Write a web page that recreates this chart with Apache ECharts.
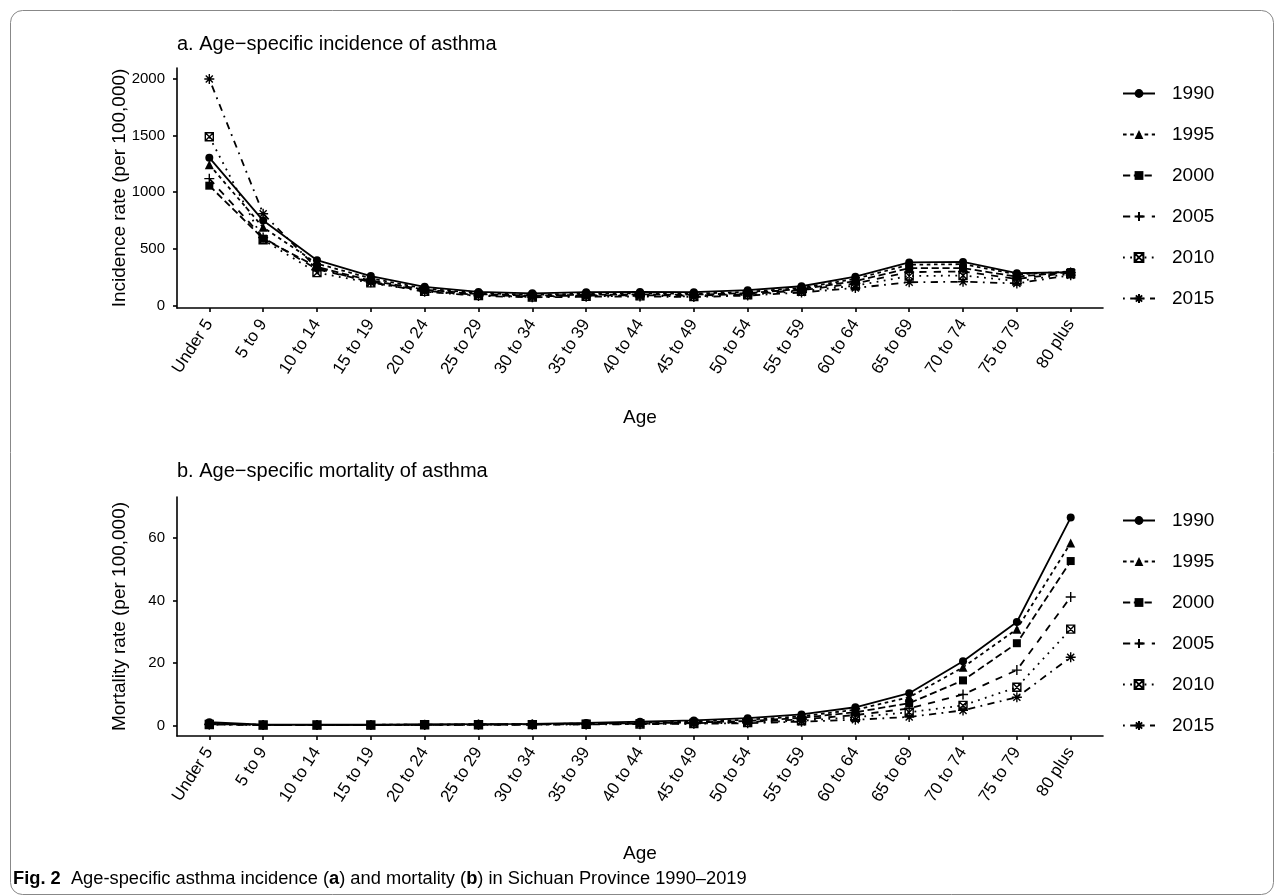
<!DOCTYPE html>
<html>
<head>
<meta charset="utf-8">
<script src="https://cdn.jsdelivr.net/npm/echarts@6/dist/echarts.min.js"></script>
<style>html,body{margin:0;padding:0;background:#fff}#c{width:1284px;height:896px}</style>
</head>
<body>
<div id="c"></div>
<script>
const ages = ['Under 5','5 to 9','10 to 14','15 to 19','20 to 24','25 to 29','30 to 34','35 to 39','40 to 44','45 to 49','50 to 54','55 to 59','60 to 64','65 to 69','70 to 74','75 to 79','80 plus'];
const years = ['1990','1995','2000','2005','2010','2015'];

const inc1990 = [1305, 750, 400, 260, 165, 120, 108, 118, 120, 118, 135, 170, 255, 380, 385, 285, 295];
const inc1995 = [1243, 690, 370, 240, 150, 110, 95, 105, 108, 105, 120, 155, 235, 360, 365, 275, 300];
const inc2000 = [1058, 590, 340, 220, 140, 100, 88, 95, 98, 95, 110, 145, 215, 330, 330, 255, 295];
const inc2005 = [1120, 600, 320, 210, 130, 92, 80, 88, 90, 88, 100, 135, 195, 295, 300, 235, 290];
const inc2010 = [1490, 580, 290, 200, 125, 88, 75, 82, 85, 80, 95, 125, 175, 260, 265, 215, 280];
const inc2015 = [2000, 810, 330, 205, 122, 85, 72, 78, 80, 75, 88, 115, 155, 205, 210, 195, 268];

const mor1990 = [1.0, 0.2, 0.2, 0.2, 0.3, 0.4, 0.5, 0.8, 1.2, 1.6, 2.3, 3.5, 5.8, 10.3, 20.5, 33.1, 66.5];
const mor1995 = [0.6, 0.18, 0.18, 0.18, 0.25, 0.3, 0.4, 0.6, 0.9, 1.2, 1.8, 2.9, 5.0, 9.0, 18.6, 30.8, 58.4];
const mor2000 = [0.5, 0.15, 0.16, 0.16, 0.22, 0.28, 0.35, 0.5, 0.7, 0.9, 1.4, 2.4, 4.2, 7.1, 14.4, 26.3, 52.6];
const mor2005 = [0.4, 0.13, 0.14, 0.14, 0.2, 0.25, 0.3, 0.4, 0.55, 0.7, 1.1, 1.9, 3.3, 5.4, 9.9, 17.7, 41.1];
const mor2010 = [0.3, 0.12, 0.12, 0.12, 0.18, 0.2, 0.25, 0.35, 0.45, 0.6, 0.9, 1.5, 2.6, 4.2, 6.4, 12.2, 30.8];
const mor2015 = [0.25, 0.1, 0.1, 0.11, 0.15, 0.18, 0.22, 0.3, 0.4, 0.5, 0.7, 1.2, 1.8, 2.7, 4.8, 9.0, 21.8];

const incTicks = [0, 500, 1000, 1500, 2000];
const morTicks = [0, 20, 40, 60];

const incidence = [inc1990, inc1995, inc2000, inc2005, inc2010, inc2015];
const mortality = [mor1990, mor1995, mor2000, mor2005, mor2010, mor2015];
const ageIdx = ages.map((a, i) => i);

const FONT = 'Liberation Sans';
const LW = 1.8;
const styles = [
  {symbol: 'circle', size: 8, dash: 'solid', stroke: false},
  {symbol: 'triangle', size: 9, dash: [3.6, 3.6], stroke: false},
  {symbol: 'rect', size: 8, dash: [7.2, 3.6], stroke: false},
  {symbol: 'path://M5,0L5,10M0,5L10,5', size: 10, dash: [7.2, 7.2], stroke: true},
  {symbol: 'path://M0,0L10,0L10,10L0,10ZM0,0L10,10M10,0L0,10', size: 8, dash: [1.8, 5.4], stroke: true, hollow: true},
  {symbol: 'path://M5,0L5,10M0,5L10,5M1.46,1.46L8.54,8.54M8.54,1.46L1.46,8.54', size: 10, dash: [1.8, 5.4, 7.2, 5.4], stroke: true}
];

function makeSeries(valuesList, gi) {
  return years.map((y, k) => {
    const st = styles[k];
    return {
      name: y,
      type: 'line',
      xAxisIndex: gi, yAxisIndex: gi,
      data: valuesList[k].map((v, i) => [ageIdx[i], v]),
      symbol: st.symbol,
      symbolSize: st.size,
      showAllSymbol: true,
      lineStyle: {color: '#000', width: LW, type: st.dash},
      itemStyle: st.stroke
        ? {color: st.hollow ? 'rgba(0,0,0,0)' : '#000', borderColor: '#000', borderWidth: 1.4}
        : {color: '#000'},
      emphasis: {disabled: true},
      z: 2
    };
  });
}

const xAxisBase = (gi, gap) => ({
  type: 'value', gridIndex: gi, min: -0.6, max: 16.6,
  name: 'Age', nameLocation: 'middle', nameGap: gap,
  nameTextStyle: {fontFamily: FONT, fontSize: 19, color: '#000'},
  axisLine: {onZero: false, lineStyle: {color: '#000', width: 1.6}},
  axisTick: {length: 4, lineStyle: {color: '#000', width: 1.6}, customValues: ageIdx},
  axisLabel: {customValues: ageIdx, rotate: 57, margin: 13, fontFamily: FONT, fontSize: 17, color: '#000',
    formatter: v => ages[Math.round(v)]},
  splitLine: {show: false}
});
const yAxisBase = (gi, min, max, ticks, name) => ({
  type: 'value', gridIndex: gi, min: min, max: max,
  name: name, nameLocation: 'middle', nameGap: 48, nameMoveOverlap: false,
  nameTextStyle: {fontFamily: FONT, fontSize: 19, color: '#000'},
  axisLine: {show: true, onZero: false, lineStyle: {color: '#000', width: 1.6}},
  axisTick: {show: true, length: 4, lineStyle: {color: '#000', width: 1.6}, customValues: ticks},
  axisLabel: {customValues: ticks, margin: 12, fontFamily: FONT, fontSize: 15, color: '#000',
    formatter: v => String(v)},
  splitLine: {show: false}
});

const legendBase = (top) => ({
  data: years, orient: 'vertical', left: 1117, top: top,
  itemWidth: 32, itemHeight: 11, itemGap: 22,
  selectedMode: false,
  textStyle: {fontFamily: FONT, fontSize: 19, color: '#000', padding: [0, 0, 0, 12]}
});

const chart = echarts.init(document.getElementById('c'), null, {renderer: 'canvas'});
chart.setOption({
  animation: false,
  backgroundColor: '#fff',
  graphic: [{type: 'rect', shape: {x: 10.5, y: 10.5, width: 1263, height: 884, r: 12}, style: {fill: 'none', stroke: '#888', lineWidth: 1}, silent: true}],
  title: [
    {text: 'a. Age\u2212specific incidence of asthma', left: 172, top: 29, textStyle: {fontFamily: FONT, fontSize: 20, fontWeight: 'normal', color: '#000'}},
    {text: 'b. Age\u2212specific mortality of asthma', left: 172, top: 456, textStyle: {fontFamily: FONT, fontSize: 20, fontWeight: 'normal', color: '#000'}},
    {text: '{b|Fig. 2}  Age-specific asthma incidence ({b|a}) and mortality ({b|b}) in Sichuan Province 1990\u20132019',
     left: 8, top: 865,
     textStyle: {fontFamily: FONT, fontSize: 18.3, fontWeight: 'normal', color: '#000',
       rich: {b: {fontFamily: FONT, fontSize: 18.3, fontWeight: 'bold', color: '#000'}}}}
  ],
  legend: [legendBase(79), legendBase(506)],
  grid: [
    {left: 177, top: 68, width: 926, height: 240},
    {left: 177, top: 497, width: 926, height: 239}
  ],
  xAxis: [xAxisBase(0, 100), xAxisBase(1, 108)],
  yAxis: [
    yAxisBase(0, -22, 2097, incTicks, 'Incidence rate (per 100,000)'),
    yAxisBase(1, -3.4, 73.1, morTicks, 'Mortality rate (per 100,000)')
  ],
  series: [].concat(makeSeries(incidence, 0), makeSeries(mortality, 1))
});
</script>
</body>
</html>
